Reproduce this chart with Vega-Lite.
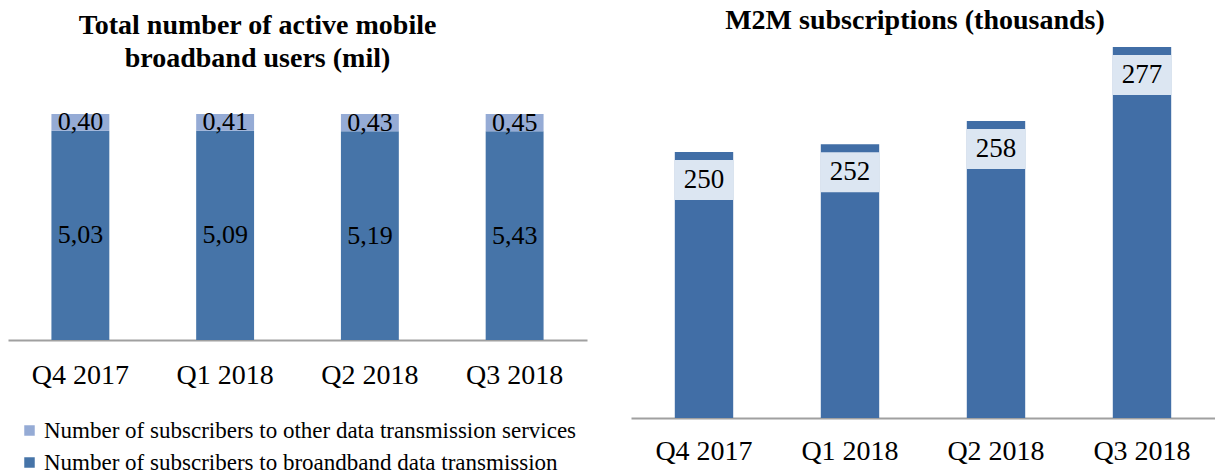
{
  "$schema": "https://vega.github.io/schema/vega-lite/v6.json",
  "padding": {"left": 8, "top": 7, "right": 0, "bottom": 0},
  "background": "white",
  "spacing": 44,
  "config": {
    "locale": {"number": {"decimal": ",", "thousands": " ", "grouping": [3], "currency": ["", ""]}},
    "view": {"stroke": null},
    "font": "Liberation Serif",
    "title": {"font": "Liberation Serif", "fontSize": 28, "fontWeight": "bold", "color": "#000000", "anchor": "middle", "frame": "group"},
    "axis": {"labelFont": "Liberation Serif", "labelColor": "#000000", "domainColor": "#a0a0a0", "domainWidth": 2, "ticks": false, "grid": false}
  },
  "hconcat": [
    {
      "width": 579,
      "height": 381,
      "title": {"text": ["Total number of active mobile", "broadband users (mil)"], "dx": -40, "offset": -36, "lineHeight": 33},
      "data": {"values": [
        {"quarter": "Q4 2017", "series": "Number of subscribers to broandband data transmission", "value": 5.03},
        {"quarter": "Q4 2017", "series": "Number of subscribers to other data transmission services", "value": 0.40},
        {"quarter": "Q1 2018", "series": "Number of subscribers to broandband data transmission", "value": 5.09},
        {"quarter": "Q1 2018", "series": "Number of subscribers to other data transmission services", "value": 0.41},
        {"quarter": "Q2 2018", "series": "Number of subscribers to broandband data transmission", "value": 5.19},
        {"quarter": "Q2 2018", "series": "Number of subscribers to other data transmission services", "value": 0.43},
        {"quarter": "Q3 2018", "series": "Number of subscribers to broandband data transmission", "value": 5.43},
        {"quarter": "Q3 2018", "series": "Number of subscribers to other data transmission services", "value": 0.45}
      ]},
      "encoding": {
        "x": {"field": "quarter", "type": "nominal", "sort": null,
              "scale": {"paddingInner": 0.6, "paddingOuter": 0.3},
              "axis": {"title": null, "offset": -78, "labelPadding": 21, "labelFontSize": 28, "labelAngle": 0}}
      },
      "layer": [
        {
          "mark": {"type": "bar"},
          "encoding": {
            "y": {"field": "value", "type": "quantitative", "stack": "normalize",
                  "scale": {"domain": [-0.3451, 1.3407], "nice": false, "zero": false}, "axis": null},
            "color": {"field": "series", "type": "nominal",
                      "scale": {"domain": ["Number of subscribers to other data transmission services", "Number of subscribers to broandband data transmission"], "range": ["#95abd5", "#4674a8"]},
                      "legend": {"title": null, "orient": "none", "legendX": 10, "legendY": 382, "direction": "vertical", "symbolType": "square", "symbolSize": 110, "labelFontSize": 23, "labelFont": "Liberation Serif", "labelColor": "#000000", "rowPadding": 8, "labelOffset": 3, "symbolStrokeWidth": 0, "labelLimit": 0, "padding": 0}},
            "order": {"field": "series", "sort": "ascending"}
          }
        },
        {
          "mark": {"type": "text", "fontSize": 26, "baseline": "middle", "color": "#000000"},
          "encoding": {
            "y": {"field": "value", "type": "quantitative", "stack": "normalize", "bandPosition": 0.5},
            "detail": {"field": "series"},
            "order": {"field": "series", "sort": "ascending"},
            "text": {"field": "value", "type": "quantitative", "format": ".2f"}
          }
        }
      ]
    },
    {
      "width": 584,
      "height": 381,
      "title": {"text": "M2M subscriptions (thousands)", "dx": -8, "offset": 2},
      "data": {"values": [
        {"quarter": "Q4 2017", "value": 250},
        {"quarter": "Q1 2018", "value": 252},
        {"quarter": "Q2 2018", "value": 258},
        {"quarter": "Q3 2018", "value": 277}
      ]},
      "encoding": {
        "x": {"field": "quarter", "type": "nominal", "sort": null,
              "scale": {"paddingInner": 0.6, "paddingOuter": 0.3},
              "axis": {"title": null, "labelPadding": 19, "labelFontSize": 28, "labelAngle": 0}},
        "y": {"field": "value", "type": "quantitative",
              "scale": {"domain": [181.6, 279.6], "nice": false, "zero": false, "clamp": true}, "axis": null}
      },
      "layer": [
        {"mark": {"type": "bar", "color": "#416ea6"}},
        {"mark": {"type": "tick", "color": "#dce6f2", "thickness": 40, "size": 59, "yOffset": 28, "opacity": 1}},
        {"mark": {"type": "text", "fontSize": 27, "baseline": "middle", "yOffset": 28, "color": "#000000"},
         "encoding": {"text": {"field": "value", "type": "quantitative"}}}
      ]
    }
  ]
}
